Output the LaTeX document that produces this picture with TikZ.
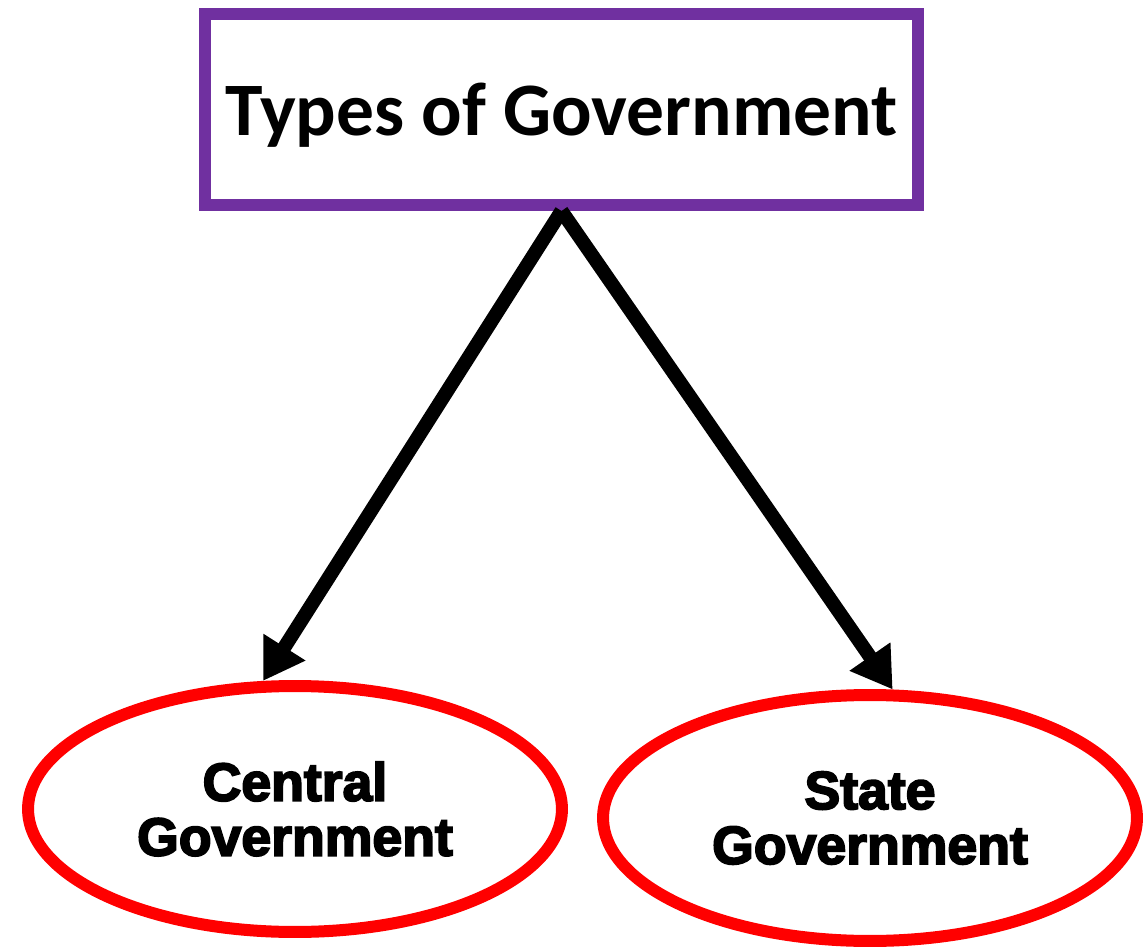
\documentclass[tikz,border=0pt]{standalone}
\usepackage{fontspec}
\usepackage{tikz}
\usetikzlibrary{shapes,arrows}
\usetikzlibrary{arrows.meta, positioning}
\setmainfont{Carlito}
\newfontfamily\heavyfont[FakeBold=3.5]{Liberation Sans Bold}
\definecolor{govpurple}{HTML}{7030A0}
\definecolor{govred}{HTML}{FF0000}
\tikzset{
  titlebox/.style={draw=govpurple, line width=0.24cm, rectangle, minimum width=14.26cm, minimum height=3.82cm, inner sep=0pt, text depth=0pt, font=\fontsize{43}{51}\selectfont\bfseries},
  govellipse/.style={draw=govred, line width=0.24cm, ellipse, minimum width=10.68cm, minimum height=4.92cm, inner sep=0pt, align=center, font=\fontsize{30.5}{31.2}\selectfont\heavyfont},
}

\begin{document}
\begin{tikzpicture}[x=0.02cm, y=-0.02cm]
          \useasboundingbox (0,0) rectangle (1143,949);
          \node (types) [titlebox] at (561.5,109.5) {Types of Government};
          \node (central) [govellipse] at (295,809) {Central\\Government};
          \node (state) [govellipse] at (870,818) {State\\Government};
          
          \path [-{Triangle[length=0.8cm, width=0.94cm]}, line width=0.28cm]
              (types.south) edge (central.104)
              (types.south) edge (state.80)
              ;
      \end{tikzpicture}
\end{document}
